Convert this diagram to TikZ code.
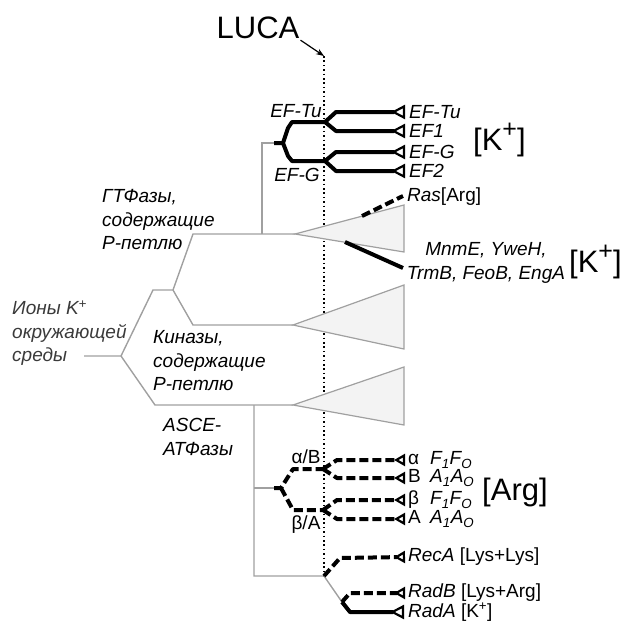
\documentclass[tikz,border=0pt]{standalone}
\usepackage{fontspec}
\setmainfont{Liberation Sans}
\usetikzlibrary{arrows.meta}
\definecolor{lgray}{HTML}{A0A0A0}
\definecolor{tfill}{HTML}{F3F3F3}
\definecolor{txtgray}{HTML}{3A3A3A}
\newcommand{\lab}{\fontsize{19}{23.5}\selectfont}
\newcommand{\bigtxt}{\fontsize{31}{34}\selectfont}
\newcommand{\bigplus}{\raisebox{0.42em}{\fontsize{25}{25}\selectfont +}}
\begin{document}
\begin{tikzpicture}[x=1pt,y=-1pt,
  gline/.style={draw=lgray, line width=1.4pt},
  bline/.style={draw=black, line width=4pt, line join=round},
  dline/.style={bline, dash pattern=on 9pt off 4pt},
  tri/.style={draw=lgray, fill=tfill, line width=1.2pt, line join=miter},
  lbl/.style={font=\lab, inner sep=0pt, anchor=west},
  ilbl/.style={lbl, font=\lab\itshape},
  etip/.style={-{Triangle[open,reversed,length=14pt,width=14pt,line width=2.2pt]}},
  stip/.style={-{Triangle[open,reversed,length=11pt,width=12pt,line width=2.2pt]}},
  luca/.style={draw=black, dash pattern=on 1.6pt off 2.8pt}
]
\useasboundingbox (0,0) rectangle (632,621);

% ---------- LUCA ----------
\node[font=\bigtxt, inner sep=0pt] (luca) at (258,28) {LUCA};
\coordinate (lucaTop) at (324,56);
\coordinate (lucaBot) at (324,578);
\draw[line width=1.2pt, -{Stealth[length=8pt,width=6pt]}] ([xshift=1pt,yshift=-1pt]luca.south east) -- (lucaTop);
\draw[luca, line width=1.8pt] (lucaTop) -- (lucaBot);

% ---------- grey main tree ----------
\coordinate (r0) at (84,356);
\coordinate (r1) at (121,356);
\coordinate (u0) at (153,290);
\coordinate (u1) at (173,290);
\coordinate (g0) at (193,234);
\coordinate (k0) at (193,325);
\coordinate (a0) at (155,405);
\coordinate (t1) at (295,234);
\coordinate (t2) at (293,325);
\coordinate (t3) at (293,405);
\coordinate (efv) at (262,234);
\coordinate (efh) at (262,143);
\coordinate (efs) at (274,143);
\coordinate (asv) at (254,405);
\coordinate (asm) at (254,488);
\coordinate (ass) at (274,488);
\coordinate (asb) at (254,576);
\coordinate (rec) at (324,576);
\coordinate (rad) at (342,602);

\draw[tri] (t1) -- (404,205) -- (404,252) -- cycle;
\draw[tri] (t2) -- (404,285) -- (404,349) -- cycle;
\draw[tri] (t3) -- (404,367) -- (404,425) -- cycle;

\draw[gline] (r0) -- (r1) -- (u0) -- (u1) -- (g0) -- (t1);
\draw[gline] (u1) -- (k0) -- (t2);
\draw[gline] (r1) -- (a0) -- (t3);
\draw[gline] (efv) -- (efh) -- (efs);
\draw[gline] (asv) -- (asb) -- (rec) -- (rad);
\draw[gline] (asm) -- (ass);

% ---------- EF branch ----------
\coordinate (ef0) at (283,143);
\coordinate (eftu) at (325,122);
\coordinate (efg) at (325,161);
\node[ilbl] (lEFTu) at (409,112) {EF-Tu};
\node[ilbl] (lEF1)  at (409,131) {EF1};
\node[ilbl] (lEFG)  at (409,152) {EF-G};
\node[ilbl] (lEF2)  at (409,171) {EF2};
\node[lbl, font=\bigtxt] (k1) at (473,140) {[K\bigplus]};
\node[lbl, font=\lab\itshape, anchor=center] (lEFTuL) at (296,111) {EF-Tu};
\node[lbl, font=\lab\itshape, anchor=center] (lEFGL) at (297,175) {EF-G};

\draw[bline] (efs) -- (ef0) -- (288,128) -- (292,122) -- (eftu);
\draw[bline] (ef0) -- (288,156) -- (292,161) -- (efg);
\draw[bline, etip] (eftu) -- (336,112) -- ([xshift=-4pt]lEFTu.west);
\draw[bline, etip] (eftu) -- (336,131) -- ([xshift=-4pt]lEF1.west);
\draw[bline, etip] (efg) -- (336,152) -- ([xshift=-4pt]lEFG.west);
\draw[bline, etip] (efg) -- (336,171) -- ([xshift=-4pt]lEF2.west);

% ---------- Ras / MnmE ----------
\coordinate (ras0) at (362,216);
\coordinate (ras1) at (403,196);
\coordinate (mnm0) at (345,242);
\coordinate (mnm1) at (403,268);
\draw[dline] (ras0) -- (ras1);
\draw[bline] (mnm0) -- (mnm1);
\node[lbl] (lRas) at (407,197) {\textit{Ras}[Arg]};
\node[font=\lab\itshape, inner sep=0pt, align=center] (lMnm) at (486,263) {MnmE, YweH,\\TrmB, FeoB, EngA};
\node[lbl, font=\bigtxt] (k2) at (569,262) {[K\bigplus]};

% ---------- Russian labels ----------
\node[ilbl, align=left] (lGT) at (102,220) {ГТФазы,\\содержащие\\Р-петлю};
\node[ilbl, align=left] (lKin) at (153,361) {Киназы,\\содержащие\\Р-петлю};
\node[ilbl, align=left, text=txtgray] (lIon) at (12,333) {Ионы K\textsuperscript{+}\\окружающей\\среды};
\node[ilbl, align=left] (lASCE) at (163,437) {ASCE-\\АТФазы};

% ---------- ATP synthase branch ----------
\coordinate (at0) at (281,488);
\coordinate (atu) at (323,469);
\coordinate (atd) at (323,510);
\node[lbl, anchor=center] (lab1) at (306,457) {α/B};
\node[lbl, anchor=center] (lab2) at (306,525) {β/A};
\node[lbl] (r1l) at (408,460) {\makebox[22pt][l]{α}\textit{F\textsubscript{1}F\textsubscript{O}}};
\node[lbl] (r2l) at (408,478) {\makebox[22pt][l]{B}\textit{A\textsubscript{1}A\textsubscript{O}}};
\node[lbl] (r3l) at (408,500) {\makebox[22pt][l]{β}\textit{F\textsubscript{1}F\textsubscript{O}}};
\node[lbl] (r4l) at (408,519) {\makebox[22pt][l]{A}\textit{A\textsubscript{1}A\textsubscript{O}}};
\node[lbl, font=\bigtxt] (arg) at (482,492) {[Arg]};

\draw[dline] (ass) -- (at0) -- (293,469) -- (atu);
\draw[dline] (at0) -- (293,510) -- (atd);
\draw[dline, stip] (atu) -- (337,460) -- ([xshift=-3pt]r1l.west);
\draw[dline, stip] (atu) -- (337,478) -- ([xshift=-3pt]r2l.west);
\draw[dline, stip] (atd) -- (337,500) -- ([xshift=-3pt]r3l.west);
\draw[dline, stip] (atd) -- (337,519) -- ([xshift=-3pt]r4l.west);

% ---------- RecA / RadA / RadB ----------
\node[lbl] (lRec) at (408,557) {\textit{RecA} [Lys+Lys]};
\node[lbl] (lRadB) at (408,593) {\textit{RadB} [Lys+Arg]};
\node[lbl] (lRadA) at (408,612) {\textit{RadA} [K\textsuperscript{+}]};
\draw[dline, stip] (rec) -- (340,558) -- ([xshift=-3pt]lRec.west);
\draw[dline, stip] (rad) -- (350,593) -- ([xshift=-3pt]lRadB.west);
\draw[bline, etip] (rad) -- (350,612) -- ([xshift=-4pt]lRadA.west);
\end{tikzpicture}
\end{document}
